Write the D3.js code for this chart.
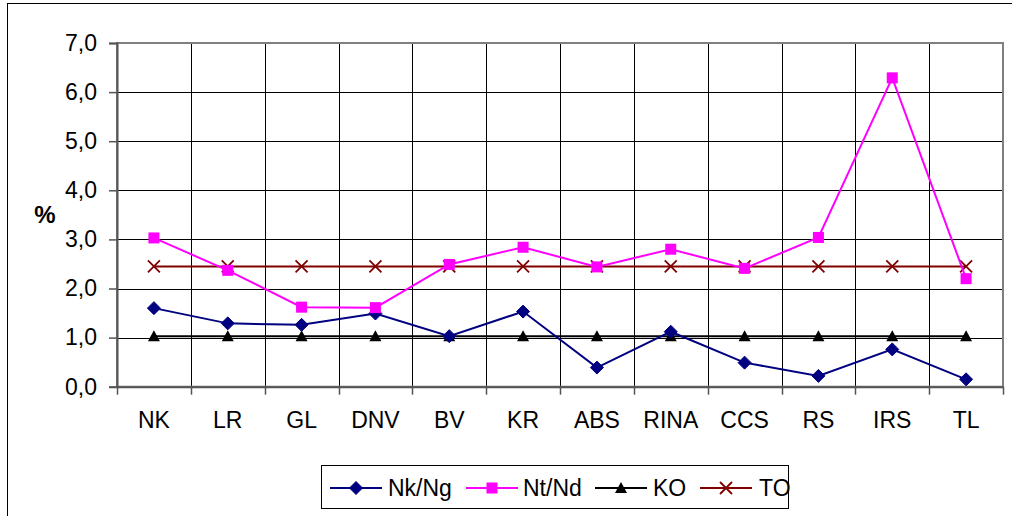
<!DOCTYPE html>
<html><head><meta charset="utf-8">
<script src="https://cdnjs.cloudflare.com/ajax/libs/d3/7.8.5/d3.min.js"></script>
<style>body{margin:0;background:#fff}svg{display:block;font-family:"Liberation Sans",Arial,sans-serif}</style>
</head><body><svg id="c" width="1012" height="516"></svg>
<script>
const categories = ["NK","LR","GL","DNV","BV","KR","ABS","RINA","CCS","RS","IRS","TL"];
const nkNg = [1.60,1.29,1.26,1.49,1.03,1.53,0.39,1.12,0.49,0.22,0.76,0.15];
const ntNd = [3.03,2.37,1.62,1.61,2.49,2.84,2.44,2.80,2.41,3.04,6.29,2.20];
const ko   = [1.03,1.03,1.03,1.03,1.03,1.03,1.03,1.03,1.03,1.03,1.03,1.03];
const to   = [2.45,2.45,2.45,2.45,2.45,2.45,2.45,2.45,2.45,2.45,2.45,2.45];
const yTicks = [0,1,2,3,4,5,6,7];
const seriesNames = ["Nk/Ng","Nt/Nd","KO","TO"];

const series = [
  {name:seriesNames[0], values:nkNg, color:"#000080", marker:"diamond"},
  {name:seriesNames[1], values:ntNd, color:"#FF00FF", marker:"square"},
  {name:seriesNames[2], values:ko, color:"#000000", marker:"triangle"},
  {name:seriesNames[3], values:to, color:"#800000", marker:"x"}
];

const FS = 23;
const svg = d3.select("#c");
const L=117, R=1003, T=43, B=386.7;
const x = d3.scaleBand().domain(categories).range([L,R]);
const y = d3.scaleLinear().domain([0,7]).range([B,T]);
const fmt = d => d.toFixed(1).replace(".",",");

// outer border
svg.append("rect").attr("x",7.5).attr("y",3.5).attr("width",1010).attr("height",520)
  .attr("fill","none").attr("stroke","#000").attr("stroke-width",1);

// horizontal gridlines
svg.append("g").selectAll("line").data(yTicks.slice(1,-1)).join("line")
  .attr("x1",L).attr("x2",R).attr("y1",d=>Math.round(y(d))+0.5).attr("y2",d=>Math.round(y(d))+0.5)
  .attr("stroke","#000").attr("stroke-width",1);
// vertical gridlines
svg.append("g").selectAll("line").data(categories.slice(1)).join("line")
  .attr("x1",d=>Math.round(x(d))+0.5).attr("x2",d=>Math.round(x(d))+0.5).attr("y1",T).attr("y2",B)
  .attr("stroke","#000").attr("stroke-width",1);
// plot border
svg.append("rect").attr("x",L).attr("y",T).attr("width",R-L).attr("height",B-T)
  .attr("fill","none").attr("stroke","#808080").attr("stroke-width",2);

// y axis
const yAxis = svg.append("g").attr("transform",`translate(${L},0)`)
  .call(d3.axisLeft(y).tickValues(yTicks).tickFormat(fmt).tickSize(8).tickPadding(12));
yAxis.attr("font-size",FS).attr("font-family","Liberation Sans, Arial, sans-serif");
yAxis.select(".domain").attr("stroke","#555").attr("stroke-width",2);
yAxis.selectAll(".tick line").attr("stroke","#555").attr("stroke-width",1.5);
yAxis.selectAll("text").attr("fill","#000");

// x axis
const xAxis = svg.append("g").attr("transform",`translate(0,${B})`)
  .call(d3.axisBottom(x).tickSize(0).tickPadding(25));
xAxis.attr("font-size",FS).attr("font-family","Liberation Sans, Arial, sans-serif");
xAxis.select(".domain").attr("stroke","#555").attr("stroke-width",2);
xAxis.selectAll("text").attr("fill","#000");
// category boundary ticks
svg.append("g").selectAll("line").data(categories.concat(["_end"])).join("line")
  .attr("x1",(d,i)=>Math.round(L+i*x.bandwidth())+0.5).attr("x2",(d,i)=>Math.round(L+i*x.bandwidth())+0.5)
  .attr("y1",B).attr("y2",B+8).attr("stroke","#555").attr("stroke-width",1.5);

// y label
svg.append("text").attr("x",45).attr("y",223).attr("text-anchor","middle")
  .attr("font-size",24).attr("font-weight","bold").text("%");

function drawMarker(g, type, color, cx, cy){
  if(type==="diamond"){
    g.append("path").attr("d",`M${cx},${cy-6.5}L${cx+6.5},${cy}L${cx},${cy+6.5}L${cx-6.5},${cy}Z`).attr("fill",color).attr("stroke",color);
  } else if(type==="square"){
    g.append("rect").attr("x",cx-5.5).attr("y",cy-5.5).attr("width",11).attr("height",11).attr("fill",color);
  } else if(type==="triangle"){
    g.append("path").attr("d",`M${cx},${cy-6}L${cx+6},${cy+5}L${cx-6},${cy+5}Z`).attr("fill",color);
  } else {
    g.append("path").attr("d",`M${cx-6},${cy-6}L${cx+6},${cy+6}M${cx+6},${cy-6}L${cx-6},${cy+6}`).attr("stroke",color).attr("stroke-width",1.8).attr("fill","none");
  }
}

const cxOf = c => x(c)+x.bandwidth()/2;
const line = d3.line().x(d=>cxOf(d.c)).y(d=>y(d.v));
[series[2],series[3],series[0],series[1]].forEach(s=>{
  const pts = categories.map((c,i)=>({c, v:s.values[i]}));
  const g = svg.append("g");
  g.append("path").datum(pts).attr("d",line).attr("fill","none").attr("stroke",s.color)
   .attr("stroke-width",2);
  pts.forEach(p=>drawMarker(g,s.marker,s.color,cxOf(p.c),y(p.v)));
});

// legend
const lg = svg.append("g");
lg.append("rect").attr("x",321.5).attr("y",465.5).attr("width",467).attr("height",43)
  .attr("fill","#fff").attr("stroke","#000").attr("stroke-width",1);
const legPos = [330,466,595,700];
const legText = [388,523,653,759];
const ly = 488;
series.forEach((s,i)=>{
  lg.append("line").attr("x1",legPos[i]).attr("x2",legPos[i]+52).attr("y1",ly).attr("y2",ly)
    .attr("stroke",s.color).attr("stroke-width",2);
  drawMarker(lg,s.marker,s.color,legPos[i]+26,ly);
  lg.append("text").attr("x",legText[i]).attr("y",ly+8).attr("font-size",FS).text(s.name);
});
</script></body></html>
